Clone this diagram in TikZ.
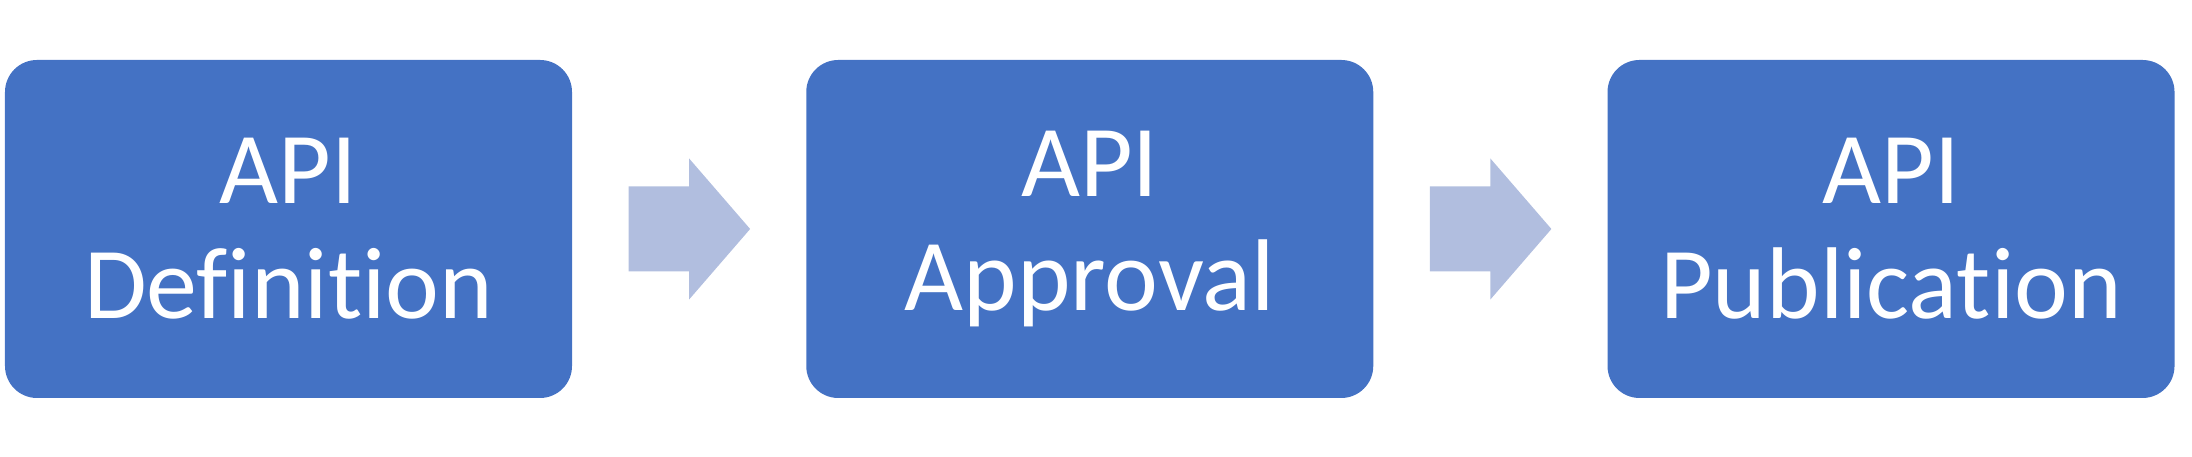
\documentclass[tikz,border=0pt]{standalone}
\usepackage{fontspec}
\setmainfont[Ligatures={NoCommon}]{Carlito}
\usepackage{tikz}
\usetikzlibrary{positioning,calc}

\definecolor{boxblue}{HTML}{4472C4}
\definecolor{arrowblue}{HTML}{B1BEDF}

\begin{document}
\begin{tikzpicture}[
    stage/.style={fill=boxblue, rounded corners=0.32cm, minimum width=5.67cm,
      minimum height=3.38cm, inner sep=0pt, align=center, text=white,
      font=\fontsize{29}{32.7}\selectfont},
    blockarrow/.style={fill=arrowblue}
  ]
      \useasboundingbox (0, 0) rectangle (21.92, 4.57);

      \node[stage] (def) at (2.885, 2.28) {API\\Definition};
      \node[stage] (appr) at (10.8975, 2.28) {API\\Approval};
      \node[stage] (pub) at (18.91, 2.28) {API\\Publication};

      % block arrows between the stages
      \foreach \a/\b in {def/appr, appr/pub} {
        \coordinate (m) at ($(\a.east)!0.5!(\b.west)$);
        \fill[blockarrow] ($(m)+(-0.605,0.425)$) -- ($(m)+(0,0.425)$)
          -- ($(m)+(0,0.705)$) -- ($(m)+(0.61,0)$) -- ($(m)+(0,-0.705)$)
          -- ($(m)+(0,-0.425)$) -- ($(m)+(-0.605,-0.425)$) -- cycle;
      }
    \end{tikzpicture}
\end{document}
